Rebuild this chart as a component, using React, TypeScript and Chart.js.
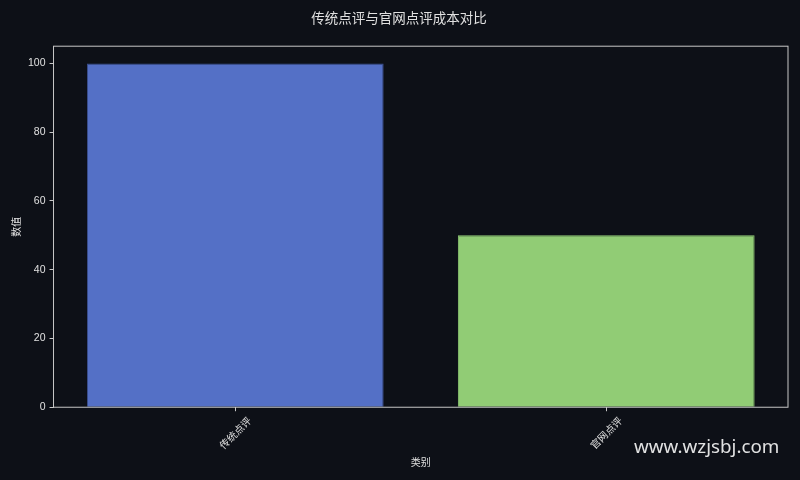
import React, { useEffect, useRef } from "react";
import { Chart, registerables } from "chart.js";

Chart.register(...registerables);

const categories = ["传统点评", "官网点评"];
const values = [100, 50];
const yTicks = [0, 20, 40, 60, 80, 100];
const barColors = ["#5470c6", "#91cc75"];
const barEdges = ["#3b4f8f", "#91cc75"];

const CJK = "'Noto Sans CJK SC', sans-serif";
const NUM = "'Liberation Sans', 'Noto Sans CJK SC', sans-serif";
const TEXT = "#e0e0e0";
const BG = "#0d1017";
const EDGE = "#c8c8c8";

// full frame round the plot, centred rotated x labels, watermark
const framePlugin = {
	id: "frame",
	afterDatasetsDraw(chart: any) {
		const { ctx, chartArea } = chart;
		ctx.save();
		ctx.strokeStyle = EDGE;
		ctx.lineWidth = 1;
		ctx.strokeRect(chartArea.left, chartArea.top, chartArea.right - chartArea.left, chartArea.bottom - chartArea.top);
		ctx.restore();
	},
	afterDraw(chart: any) {
		const { ctx, chartArea } = chart;
		const xScale = chart.scales.x;
		ctx.save();
		ctx.fillStyle = TEXT;
		ctx.font = "10px " + CJK;
		ctx.textAlign = "center";
		ctx.textBaseline = "middle";
		categories.forEach((label, i) => {
			const w = ctx.measureText(label).width;
			const boxH = (w + 10) * Math.SQRT1_2;
			const x = xScale.getPixelForValue(i);
			const y = chartArea.bottom + 8 + boxH / 2;
			ctx.save();
			ctx.translate(x, y);
			ctx.rotate(-Math.PI / 4);
			ctx.fillText(label, 0, 0);
			ctx.restore();
		});
		ctx.fillStyle = "rgba(255,255,255,0.88)";
		ctx.font = "18.8px 'Noto Sans', sans-serif";
		ctx.textAlign = "left";
		ctx.fillText("www.wzjsbj.com", 634, 448);
		ctx.restore();
	},
};

const App: React.FC = () => {
	const chartRef = useRef<HTMLCanvasElement>(null);
	const chartInstance = useRef<Chart | null>(null);

	useEffect(() => {
		if (!chartRef.current) return;
		if (chartInstance.current) chartInstance.current.destroy();

		chartInstance.current = new Chart(chartRef.current, {
			type: "bar",
			data: {
				datasets: [
					{
						data: values.map((v, i) => ({ x: i, y: v })),
						backgroundColor: barColors,
						borderColor: barEdges,
						borderWidth: 1,
						barPercentage: 0.8,
						categoryPercentage: 1,
					},
				],
			},
			options: {
				animation: false,
				responsive: true,
				maintainAspectRatio: false,
				layout: { padding: { left: 10, right: 12, top: 0, bottom: 12 } },
				plugins: {
					legend: { display: false },
					tooltip: { enabled: false },
					title: {
						display: true,
						text: "传统点评与官网点评成本对比",
						color: TEXT,
						font: { family: CJK, size: 13.5, weight: "normal" },
						padding: { top: 10, bottom: 20 },
					},
				},
				scales: {
					x: {
						type: "linear",
						offset: false,
						min: -0.49,
						max: categories.length - 1 + 0.49,
						afterBuildTicks: (axis: any) => {
							axis.ticks = categories.map((_, i) => ({ value: i }));
						},
						grid: {
							display: true,
							offset: false,
							drawOnChartArea: false,
							tickLength: 4,
							tickColor: EDGE,
						},
						border: { display: false },
						ticks: {
							color: "rgba(0,0,0,0)",
							callback: (v: any) => categories[v] ?? "",
							maxRotation: 45,
							minRotation: 45,
							padding: 4,
							font: { family: CJK, size: 10 },
						},
						title: {
							display: true,
							text: "类别",
							color: TEXT,
							font: { family: CJK, size: 10 },
							padding: { top: 0, bottom: 0 },
						},
					},
					y: {
						min: 0,
						max: 105,
						afterBuildTicks: (axis: any) => {
							axis.ticks = yTicks.map((v) => ({ value: v }));
						},
						grid: {
							display: true,
							drawOnChartArea: false,
							tickLength: 4,
							tickColor: EDGE,
						},
						border: { display: false },
						ticks: {
							color: TEXT,
							padding: 4,
							font: { family: NUM, size: 10.5 },
						},
						title: {
							display: true,
							text: "数值",
							color: TEXT,
							font: { family: CJK, size: 10 },
							padding: { top: 0, bottom: 2 },
						},
					},
				},
			},
			plugins: [framePlugin],
		});

		return () => {
			if (chartInstance.current) {
				chartInstance.current.destroy();
				chartInstance.current = null;
			}
		};
	}, []);

	return (
		<div style={{ position: "absolute", left: 0, top: 0, width: 800, height: 480, background: BG }}>
			<canvas ref={chartRef}></canvas>
		</div>
	);
};

export default App;
